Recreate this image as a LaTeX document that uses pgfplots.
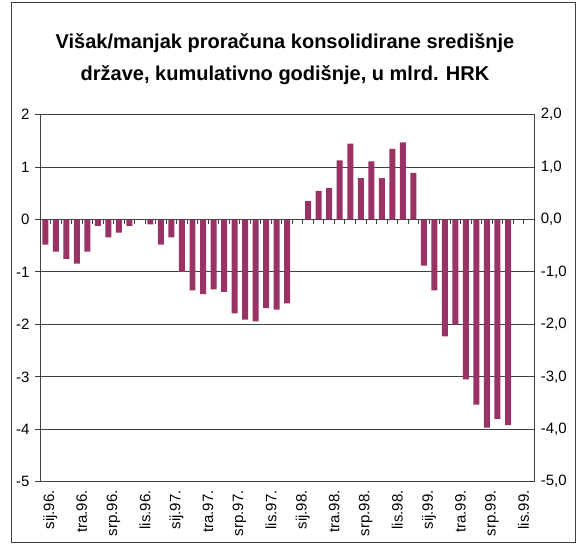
\documentclass[border=0pt]{standalone}
\usepackage{pgfplots}
\pgfplotsset{compat=1.18}
\usepackage{pgfplotstable}
\usepackage{fontspec}
\setmainfont{Liberation Sans}
\definecolor{barc}{HTML}{993366}
\definecolor{gridc}{HTML}{404040}

\pgfplotstableread{
x y
0 -0.48
1 -0.61
2 -0.75
3 -0.84
4 -0.61
5 -0.12
6 -0.34
7 -0.25
8 -0.12
10 -0.09
11 -0.48
12 -0.34
13 -1.00
14 -1.35
15 -1.42
16 -1.33
17 -1.38
18 -1.79
19 -1.91
20 -1.94
21 -1.69
22 -1.72
23 -1.60
25 0.35
26 0.545
27 0.60
28 1.13
29 1.45
30 0.79
31 1.11
32 0.79
33 1.35
34 1.47
35 0.89
36 -0.88
37 -1.35
38 -2.23
39 -2.00
40 -3.05
41 -3.53
42 -3.97
43 -3.80
44 -3.92
}\data

\begin{document}
\begin{tikzpicture}[x=1pt,y=1pt]
\draw[black!75, line width=1pt] (11.5,1.5) rectangle (575,541);
\node[align=center, font=\fontsize{20}{32}\selectfont\bfseries] at (285,485)
  {Višak/manjak proračuna konsolidirane središnje\\države, kumulativno godišnje, u mlrd. HRK};

% zero-line tick marks
\begin{axis}[
  at={(40pt,62.3pt)}, anchor=south west, scale only axis,
  width=494.3pt, height=367pt,
  xmin=-0.5, xmax=46.5, ymin=-5, ymax=2,
  axis x line=middle, axis y line=none,
  xtick={-0.5,0.5,...,46.5}, xticklabels={},
  ytick=\empty,
  tick align=outside, major tick length=4pt,
  x tick style={gridc, line width=1pt},
  x axis line style={gridc, line width=1pt, -},
]
\end{axis}

% main axis with bars
\begin{axis}[
  at={(40pt,62.3pt)}, anchor=south west, scale only axis,
  width=494.3pt, height=367pt,
  xmin=-0.5, xmax=46.5, ymin=-5, ymax=2,
  axis line style={gridc, line width=1pt},
  ytick={-5,-4,...,2},
  yticklabels={-5,-4,-3,-2,-1,0,1,2},
  ytick pos=left, tick align=outside, major tick length=5pt,
  y tick style={gridc, line width=1pt},
  ymajorgrids, grid style={gridc, line width=1pt},
  xtick={0,3,...,45},
  xticklabels={sij.96.,tra.96.,srp.96.,lis.96.,sij.97.,tra.97.,srp.97.,lis.97.,sij.98.,tra.98.,srp.98.,lis.98.,sij.99.,tra.99.,srp.99.,lis.99.},
  x tick style={draw=none},
  ticklabel style={font=\fontsize{15}{18}\selectfont},
  y tick label style={xshift=-2pt},
  x tick label style={xshift=5pt, rotate=90, anchor=east},
]
\addplot[ybar, bar width=0.57, fill=barc, draw=none] table {\data};
\end{axis}

% right axis labels
\begin{axis}[
  at={(40pt,62.3pt)}, anchor=south west, scale only axis,
  width=494.3pt, height=367pt,
  xmin=-0.5, xmax=46.5, ymin=-5, ymax=2,
  axis x line=none, axis y line*=right,
  y axis line style={draw=none},
  ytick={-5,-4,...,2},
  yticklabels={{-5,0},{-4,0},{-3,0},{-2,0},{-1,0},{0,0},{1,0},{2,0}},
  major tick length=0pt,
  ticklabel style={font=\fontsize{15}{18}\selectfont},
  y tick label style={xshift=3pt},
]
\end{axis}
\pgfresetboundingbox
\useasboundingbox (0,0) rectangle (584,544);
\end{tikzpicture}
\end{document}
